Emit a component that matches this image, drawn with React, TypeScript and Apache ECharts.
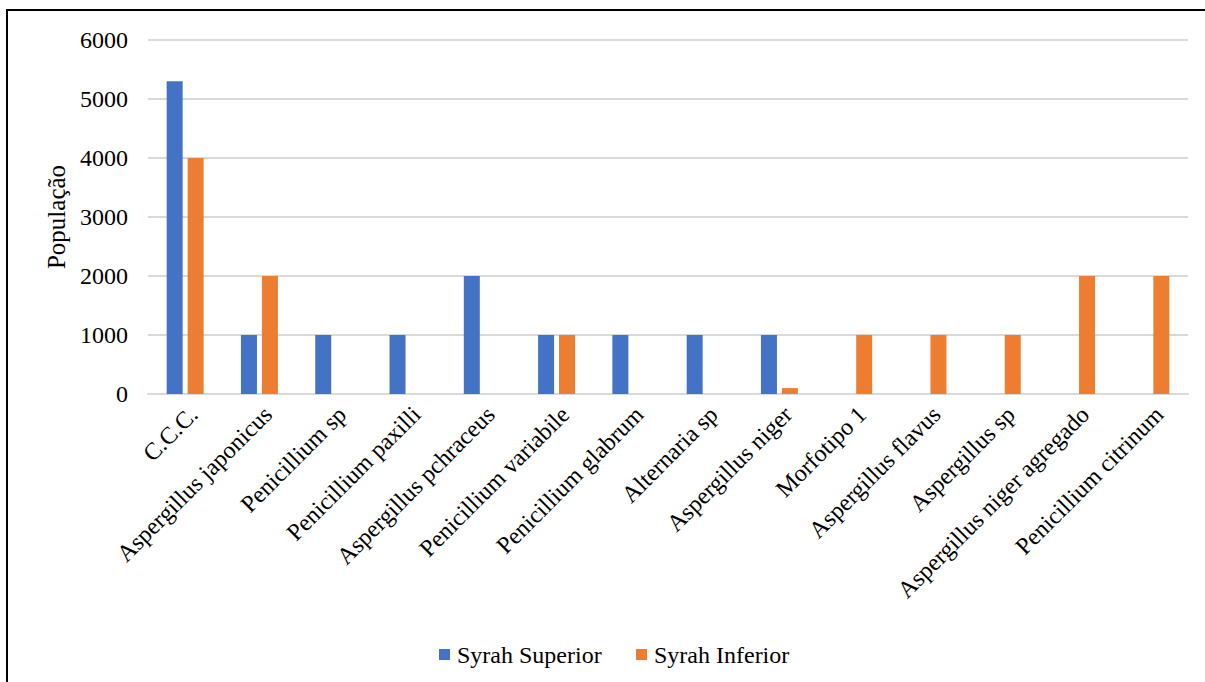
import React, { useEffect, useRef } from "react";
import * as echarts from "echarts";

const categories = [
  "C.C.C.",
  "Aspergillus japonicus",
  "Penicillium sp",
  "Penicillium paxilli",
  "Aspergillus pchraceus",
  "Penicillium variabile",
  "Penicillium glabrum",
  "Alternaria sp",
  "Aspergillus niger",
  "Morfotipo 1",
  "Aspergillus flavus",
  "Aspergillus sp",
  "Aspergillus niger agregado",
  "Penicillium citrinum",
];
const seriesNames = ["Syrah Superior", "Syrah Inferior"];
const seriesColors = ["#4472c4", "#ed7d31"];
const syrahSuperior = [5300, 1000, 1000, 1000, 2000, 1000, 1000, 1000, 1000, null, null, null, null, null];
const syrahInferior = [4000, 2000, null, null, null, 1000, null, null, 100, 1000, 1000, 1000, 2000, 2000];
const yTicks = { min: 0, max: 6000, interval: 1000 };

const FONT = "Liberation Serif";

export default function App() {
  const ref = useRef<HTMLDivElement>(null);
  useEffect(() => {
    if (!ref.current) return;
    const chart = echarts.init(ref.current, null, { renderer: "svg" });
    const legendX = [439, 636];
    const legendGraphics: any[] = [];
    seriesNames.forEach((name, i) => {
      legendGraphics.push({
        type: "rect",
        shape: { x: legendX[i], y: 649, width: 11, height: 11 },
        style: { fill: seriesColors[i] },
      });
      legendGraphics.push({
        type: "text",
        x: legendX[i] + 18,
        y: 655,
        style: {
          text: name,
          font: "24px 'Liberation Serif'",
          fontFamily: FONT,
          fontSize: 24,
          fill: "#000",
          verticalAlign: "middle",
          align: "left",
        },
      });
    });
    chart.setOption({
      animation: false,
      backgroundColor: "#ffffff",
      textStyle: { fontFamily: FONT, fontSize: 24 },
      graphic: [
        {
          type: "rect",
          shape: { x: 7, y: 10, width: 1400, height: 900 },
          style: { fill: "none", stroke: "#000000", lineWidth: 2 },
          z: 100,
        },
        ...legendGraphics,
      ],
      legend: { show: false, data: seriesNames },
      grid: { left: 148, right: 17, top: 40, bottom: 288, containLabel: false },
      xAxis: {
        type: "category",
        data: categories,
        axisLine: { show: true, lineStyle: { color: "#d9d9d9", width: 2 } },
        axisTick: { show: false },
        axisLabel: {
          rotate: 45,
          interval: 0,
          margin: 8,
          verticalAlign: "top",
          fontFamily: FONT,
          fontSize: 24,
          color: "#000",
        },
      },
      yAxis: {
        type: "value",
        min: yTicks.min,
        max: yTicks.max,
        interval: yTicks.interval,
        name: "População",
        nameLocation: "middle",
        nameGap: 76,
        nameRotate: 90,
        nameTextStyle: { fontFamily: FONT, fontSize: 25, color: "#000" },
        axisLine: { show: false },
        axisTick: { show: false },
        splitLine: { lineStyle: { color: "#d9d9d9", width: 2 } },
        axisLabel: {
          fontFamily: FONT,
          fontSize: 24,
          color: "#000",
          margin: 20,
          formatter: (v: number) => String(v),
        },
      },
      series: [
        {
          name: seriesNames[0],
          type: "bar",
          data: syrahSuperior,
          itemStyle: { color: seriesColors[0] },
          barWidth: 16,
          barGap: "31%",
        },
        {
          name: seriesNames[1],
          type: "bar",
          data: syrahInferior,
          itemStyle: { color: seriesColors[1] },
          barWidth: 16,
          barGap: "31%",
        },
      ],
    });
    return () => chart.dispose();
  }, []);
  return (
    <div
      ref={ref}
      style={{ position: "fixed", left: 0, top: 0, width: 1205, height: 682 }}
    />
  );
}
